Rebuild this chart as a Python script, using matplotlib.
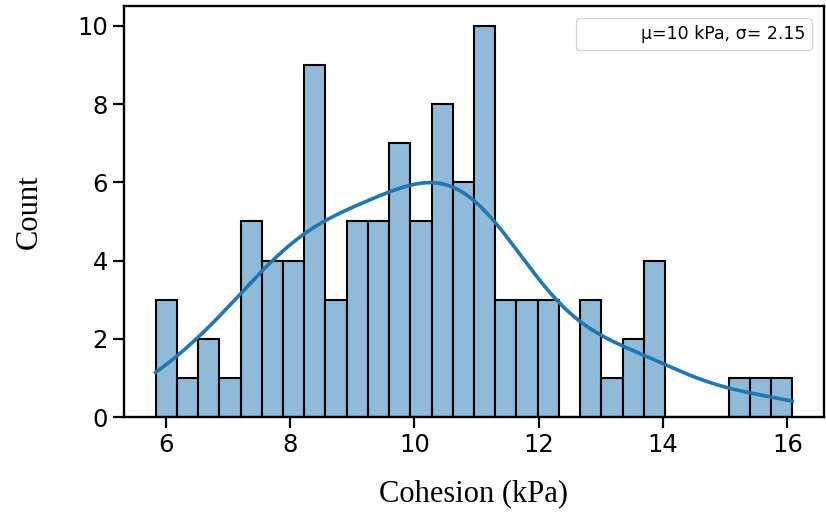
import numpy as np
import matplotlib
matplotlib.use("Agg")
import matplotlib.pyplot as plt

# Data
bin_start = 5.84
bin_end = 16.08
counts = [3, 1, 2, 1, 5, 4, 4, 9, 3, 5,
          5, 7, 5, 8, 6, 10, 3, 3, 3, 0,
          3, 1, 2, 4, 0, 0, 0, 1, 1, 1]
legend_label = "μ=10 kPa, σ= 2.15"
xlabel = "Cohesion (kPa)"
ylabel = "Count"
xticks = [6, 8, 10, 12, 14, 16]
yticks = [0, 2, 4, 6, 8, 10]

counts = np.array(counts)
edges = np.linspace(bin_start, bin_end, len(counts) + 1)
centers = (edges[:-1] + edges[1:]) / 2
width = edges[1] - edges[0]

# KDE (Gaussian, Scott's rule, slightly widened) from the binned values
samples = np.repeat(centers, counts)
n = samples.size
bw = 1.08 * samples.std(ddof=1) * n ** (-1 / 5)
xs = np.linspace(edges[0], edges[-1], 400)
dens = np.exp(-0.5 * ((xs[:, None] - samples[None, :]) / bw) ** 2).sum(axis=1) / (n * bw * np.sqrt(2 * np.pi))
kde_y = dens * n * width

fig = plt.figure(figsize=(8.26, 5.15), dpi=100)
ax = fig.add_axes([0.150, 0.190, 0.8476, 0.798])

ax.bar(edges[:-1], counts, width=width, align="edge",
       color="#8fbbd9", edgecolor="black", linewidth=1.5)
ax.plot(xs, kde_y, color="#1f77b4", linewidth=2.6)

ax.set_xlim(5.33, 16.59)
ax.set_ylim(0, 10.5)
ax.set_xticks(xticks)
ax.set_yticks(yticks)
ax.tick_params(labelsize=17.5, length=8, width=1.6)
for s in ax.spines.values():
    s.set_linewidth(1.7)

ax.set_xlabel(xlabel, family="Liberation Serif", fontsize=22, labelpad=16)
ax.set_ylabel(ylabel, family="Liberation Serif", fontsize=22, labelpad=24)

h, = ax.plot([], [], color="white", linewidth=2)
ax.legend([h], [legend_label], loc="upper right", fontsize=12.5,
          handlelength=2.5, borderaxespad=0.7)

fig.savefig("out.png", dpi=100)
